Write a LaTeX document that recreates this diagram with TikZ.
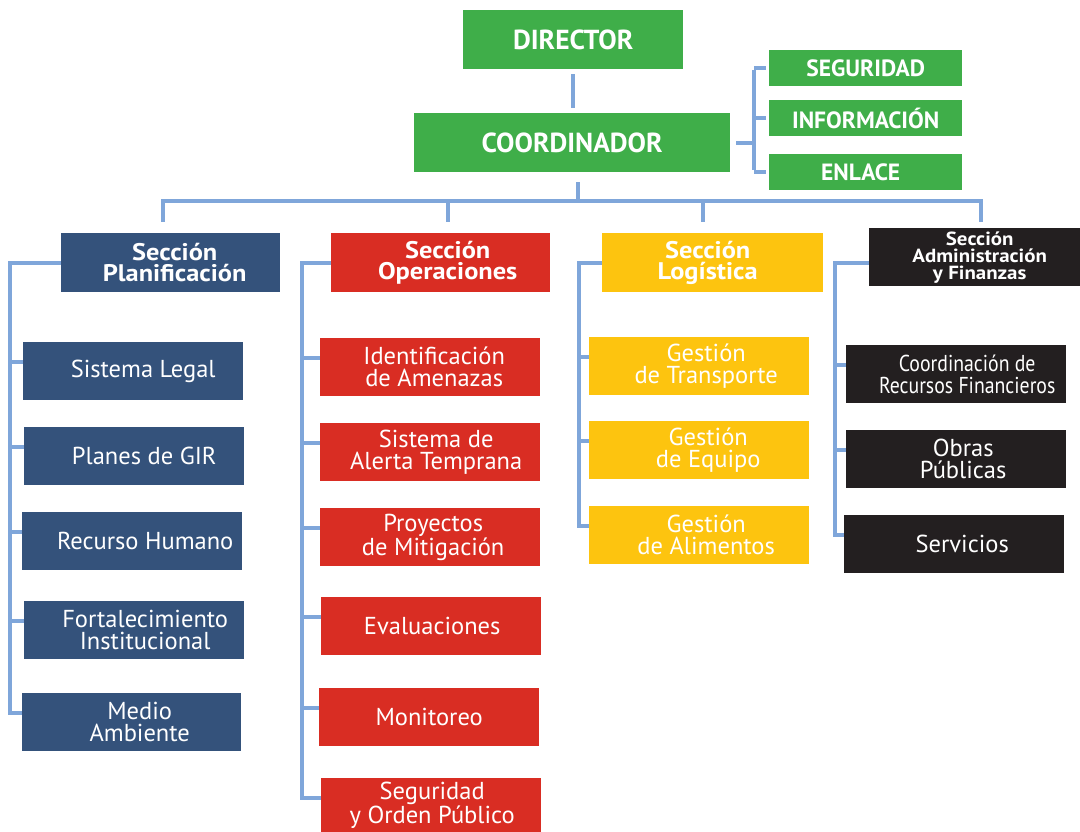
\documentclass[tikz,border=0pt]{standalone}
\usepackage{fontspec}
\setmainfont{PT Sans}
\newfontfamily\condensed[FakeStretch=0.86]{PT Sans}
\newfontfamily\widefam[FakeStretch=1.1]{PT Sans}
\usetikzlibrary{calc}
\definecolor{cgreen}{HTML}{3FAE49}
\definecolor{cblue}{HTML}{34527B}
\definecolor{cred}{HTML}{D92D23}
\definecolor{cyellow}{HTML}{FDC40F}
\definecolor{cblack}{HTML}{231F20}
\definecolor{cline}{HTML}{7FA6DA}
\newcommand\sh[1]{\hspace*{#1pt}}
\tikzset{
  box/.style={rectangle, inner sep=0pt, anchor=north west, text=white, align=center},
  top/.style={box, fill=cgreen, font=\bfseries\fontsize{27.5}{27.5}\selectfont},
  side/.style={box, fill=cgreen, minimum width=193pt, minimum height=36pt, font=\bfseries\fontsize{23.5}{23.5}\selectfont},
  sect/.style={box, minimum width=219pt, minimum height=59pt, font=\widefam\bfseries\fontsize{24}{21}\selectfont},
  child/.style={box, minimum width=220pt, minimum height=58pt, font=\fontsize{24.5}{22}\selectfont},
  conn/.style={draw=cline, line width=4pt},
}
\begin{document}
\begin{tikzpicture}[x=1pt,y=-1pt]
\useasboundingbox (0,0) rectangle (1080,832);
% top
\node[top, minimum width=220pt, minimum height=59pt] (dir) at (463,10) {DIRECTOR};
\node[top, minimum width=316pt, minimum height=59pt] (coord) at (414,113) {COORDINADOR};
\node[side] (seg) at (769,50) {SEGURIDAD};
\node[side] (info) at (769,100) {INFORMACIÓN};
\node[side] (enl) at (769,154) {\sh{-10}ENLACE};
% sections
\node[sect, fill=cblue] (plan) at (61,233) {\sh{8}Sección\\\sh{8}Planificación};
\node[sect, fill=cred] (oper) at (331,233) {\sh{14}Sección\\\sh{14}Operaciones};
\node[sect, fill=cyellow, minimum width=221pt] (logi) at (602,233) {\sh{-10}Sección\\\sh{-10}Logística};
\node[sect, fill=cblack, minimum width=211pt, minimum height=58pt, font=\widefam\bfseries\fontsize{19}{17}\selectfont] (admin) at (869,228) {\sh{10}Sección\\\sh{10}Administración\\\sh{10}y Finanzas};
% planificacion
\node[child, fill=cblue] (p1) at (23,342) {\sh{20}Sistema Legal};
\node[child, fill=cblue] (p2) at (24,427) {\sh{20}Planes de GIR};
\node[child, fill=cblue] (p3) at (22,512) {\sh{26}Recurso Humano};
\node[child, fill=cblue] (p4) at (24,601) {\sh{22}Fortalecimiento\\\sh{22}Institucional};
\node[child, fill=cblue, minimum width=219pt] (p5) at (22,693) {\sh{16}Medio\\\sh{16}Ambiente};
% operaciones
\node[child, fill=cred] (o1) at (320,338) {\sh{8}Identificación\\\sh{8}de Amenazas};
\node[child, fill=cred] (o2) at (320,423) {\sh{12}Sistema de\\\sh{12}Alerta Temprana};
\node[child, fill=cred] (o3) at (320,508) {\sh{6}Proyectos\\\sh{6}de Mitigación};
\node[child, fill=cred] (o4) at (321,597) {\sh{2}Evaluaciones};
\node[child, fill=cred] (o5) at (319,688) {Monitoreo};
\node[child, fill=cred, minimum height=54pt] (o6) at (321,778) {\sh{2}Seguridad\\\sh{2}y Orden Público};
% logistica
\node[child, fill=cyellow] (l1) at (589,337) {\sh{14}Gestión\\\sh{14}de Transporte};
\node[child, fill=cyellow] (l2) at (589,421) {\sh{18}Gestión\\\sh{18}de Equipo};
\node[child, fill=cyellow] (l3) at (589,506) {\sh{14}Gestión\\\sh{14}de Alimentos};
% admin
\node[child, fill=cblack, font=\condensed\fontsize{23}{21.5}\selectfont] (a1) at (846,345) {\sh{22}Coordinación de\\\sh{22}Recursos Financieros};
\node[child, fill=cblack] (a2) at (846,430) {\sh{14}Obras\\\sh{14}Públicas};
\node[child, fill=cblack] (a3) at (844,515) {\sh{16}Servicios};
% connectors top
\draw[conn, shorten <=5pt, shorten >=5pt] (dir.south) -- (dir.south |- coord.north);
\coordinate (br) at (754,0);
\draw[conn, shorten <=6pt] (coord.east) -- (coord.east -| br);
\draw[conn, shorten >=3pt] (seg.west -| br) -- (seg.west);
\draw[conn, shorten >=3pt] (info.west -| br) -- (info.west);
\draw[conn, shorten >=3pt] (enl.west -| br) -- (enl.west);
\draw[conn] ([yshift=-2pt]seg.west -| br) -- ([yshift=2pt]enl.west -| br);
% bus
\coordinate (bus) at (578,201);
\coordinate (d1) at (163,201);
\coordinate (d2) at (448,201);
\coordinate (d3) at (703,201);
\coordinate (d4) at (981,201);
\draw[conn, shorten <=10pt] (coord.south -| bus) -- (bus);
\draw[conn] ([xshift=-2pt]d1) -- ([xshift=2pt]d4);
\draw[conn, shorten >=11pt] (d1) -- (d1 |- plan.north);
\draw[conn, shorten >=11pt] (d2) -- (d2 |- oper.north);
\draw[conn, shorten >=11pt] (d3) -- (d3 |- logi.north);
\draw[conn, shorten >=6pt] (d4) -- (d4 |- admin.north);
% trees
\coordinate (sy) at (0,263);
\coordinate (v1) at (10,0);
\coordinate (v2) at (302,0);
\coordinate (v3) at (579,0);
\coordinate (v4) at (835,0);
\foreach \c in {p1,p2,p3,p4,p5,o1,o2,o3,o4,o5,o6,l1,l2,l3,a1,a2,a3}{
  \coordinate (\c-s) at ($(\c.north west)+(0,20)$);
}
\draw[conn] (plan.west |- sy) -| (p5-s -| v1) -- (p5-s);
\foreach \c in {p1,p2,p3,p4} \draw[conn] (\c-s -| v1) -- (\c-s);
\draw[conn] (oper.west |- sy) -| (o6-s -| v2) -- (o6-s);
\foreach \c in {o1,o2,o3,o4,o5} \draw[conn] (\c-s -| v2) -- (\c-s);
\draw[conn] (logi.west |- sy) -| (l3-s -| v3) -- (l3-s);
\foreach \c in {l1,l2} \draw[conn] (\c-s -| v3) -- (\c-s);
\draw[conn] (admin.west |- sy) -| (a3-s -| v4) -- (a3-s);
\foreach \c in {a1,a2} \draw[conn] (\c-s -| v4) -- (\c-s);
\end{tikzpicture}
\end{document}
